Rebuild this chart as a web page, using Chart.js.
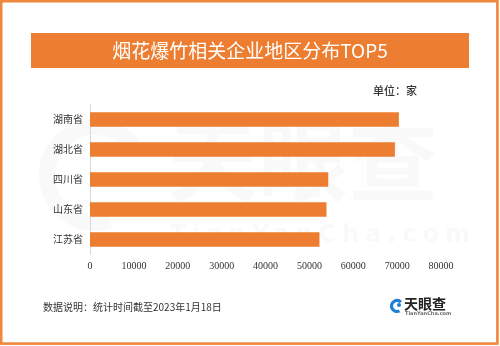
<!DOCTYPE html>
<html>
<head>
<meta charset="utf-8">
<script src="https://cdn.jsdelivr.net/npm/chart.js@4.4.1/dist/chart.umd.min.js"></script>
<style>
  html, body { margin: 0; padding: 0; background: #fff; }
  #wrap { width: 500px; height: 346px; position: relative; }
</style>
</head>
<body>
<div id="wrap"><canvas id="regionChart"></canvas></div>
<script>
const provinces = ["湖南省", "湖北省", "四川省", "山东省", "江苏省"];
const companyCounts = [70400, 69500, 54300, 53900, 52300];
const titleText = "烟花爆竹相关企业地区分布TOP5";
const unitText = "单位：家";
const noteText = "数据说明：统计时间截至2023年1月18日";

const ORANGE = "#ED7D31";
const SANS = "'Noto Sans CJK SC', 'Noto Sans', sans-serif";

// frame, banner, watermark and footer
const decorations = {
    id: "decorations",
    beforeDraw(chart) {
        const ctx = chart.ctx;
        ctx.save();
        ctx.fillStyle = "#fff";
        ctx.fillRect(0, 0, chart.width, chart.height);
        ctx.strokeStyle = "#F0873C";
        ctx.lineWidth = 2.6;
        ctx.strokeRect(1.2, 1.2, 496.2, 342.4);

        ctx.fillStyle = ORANGE;
        ctx.fillRect(31, 33, 438, 35);
        ctx.fillStyle = "#fff";
        ctx.font = "19px 'Noto Sans CJK SC', serif";
        ctx.textAlign = "center";
        ctx.textBaseline = "middle";
        ctx.fillText(titleText, 250, 51);

        ctx.fillStyle = "#333";
        ctx.font = "500 11px " + SANS;
        ctx.textAlign = "left";
        ctx.fillText(unitText, 373, 91);

        ctx.font = "10px " + SANS;
        ctx.fillText(noteText, 43, 307);

        // logo
        ctx.strokeStyle = "#1f7fd6";
        ctx.lineWidth = 3.2;
        ctx.beginPath();
        ctx.arc(397, 306, 5.5, Math.PI * 0.35, Math.PI * 1.75);
        ctx.stroke();
        ctx.fillStyle = "#1f7fd6";
        ctx.beginPath();
        ctx.arc(399, 305, 2, 0, Math.PI * 2);
        ctx.fill();
        ctx.fillStyle = "#222";
        ctx.font = "bold 14px " + SANS;
        ctx.fillText("天眼查", 404, 304);
        ctx.fillStyle = "#666";
        ctx.font = "bold 5px 'DejaVu Sans', sans-serif";
        ctx.fillText("TianYanCha.com", 405, 314);

        // faint watermark
        ctx.fillStyle = "rgba(0,0,0,0.025)";
        ctx.font = "bold 90px " + SANS;
        ctx.fillText("天眼查", 168, 160);
        ctx.font = "bold 24px 'DejaVu Sans', sans-serif";
        ctx.letterSpacing = "6px";
        ctx.fillText("TianYanCha.com", 170, 236);
        ctx.letterSpacing = "0px";
        ctx.strokeStyle = "rgba(0,0,0,0.025)";
        ctx.lineWidth = 16;
        ctx.beginPath();
        ctx.arc(95, 175, 48, Math.PI * 0.4, Math.PI * 1.8);
        ctx.stroke();
        ctx.restore();
    }
};

new Chart(document.getElementById("regionChart"), {
    type: "bar",
    data: {
        labels: provinces,
        datasets: [
            {
                label: "企业数量",
                data: companyCounts,
                backgroundColor: ORANGE,
                barPercentage: 0.48,
                categoryPercentage: 1,
            },
        ],
    },
    options: {
        indexAxis: "y",
        responsive: true,
        maintainAspectRatio: false,
        animation: false,
        layout: {
            padding: { left: 30, right: 59, top: 104.5, bottom: 71.5 },
        },
        scales: {
            x: {
                min: 0,
                max: 80000,
                grid: { display: false, drawTicks: false },
                border: { display: false },
                ticks: {
                    stepSize: 10000,
                    padding: 6,
                    color: "#333",
                    font: { family: "'Liberation Serif', serif", size: 10 },
                    callback: (value) => String(value),
                },
                afterFit(scale) { scale.height = 20; },
            },
            y: {
                grid: { display: false, drawTicks: false },
                border: { display: true, color: "#d9d9d9", width: 1 },
                ticks: {
                    padding: 7,
                    color: "#333",
                    font: { family: SANS, size: 10 },
                },
                afterFit(scale) { scale.width = 60; },
            },
        },
        plugins: {
            legend: { display: false },
            tooltip: { enabled: false },
        },
    },
    plugins: [decorations],
});
</script>
</body>
</html>
